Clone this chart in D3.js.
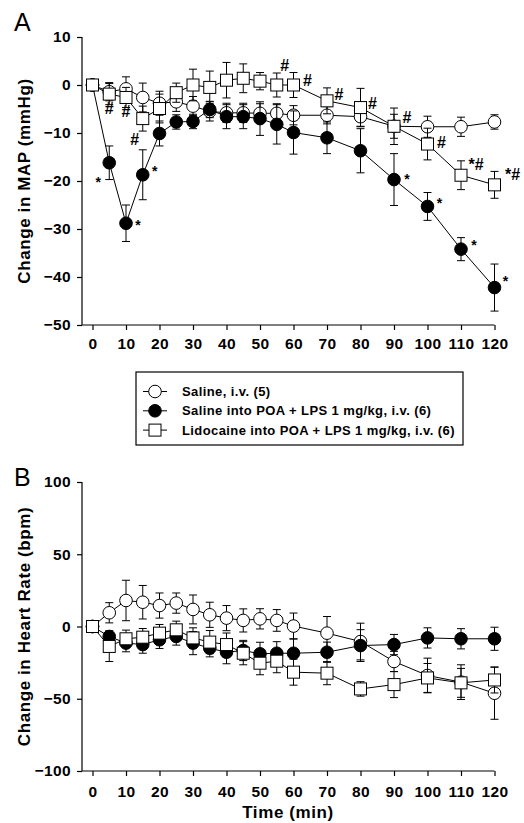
<!DOCTYPE html>
<html lang="en">
<head>
<meta charset="utf-8">
<script src="https://d3js.org/d3.v7.min.js"></script>
<style>
  body { margin: 0; background: #fff; }
  svg text { font-family: "Liberation Sans", Arial, sans-serif; }
</style>
<title>MAP and HR</title>
</head>
<body>
<script type="text/javascript">
// time points (min)
var times = [0, 5, 10, 15, 20, 25, 30, 35, 40, 45, 50, 55, 60, 70, 80, 90, 100, 110, 120];
var xTicks = [0, 10, 20, 30, 40, 50, 60, 70, 80, 90, 100, 110, 120];

// Panel A: change in MAP (mmHg), mean and SEM
var mapSaline    = [0, -1.4, -0.8, -2.6, -3.8, -3.5, -4.4, -5.5, -5.8, -5.8, -5.9, -5.9, -6.3, -6.3, -6.6, -8.6, -8.7, -8.7, -7.7];
var mapSalineErr = [0, 1.9, 2.5, 3, 2.5, 2, 2, 2, 2, 2, 2, 2, 2, 1.8, 2, 2.5, 2.2, 2, 1.5];
var mapLps       = [0, -16.2, -28.8, -18.7, -10.1, -7.7, -7.6, -5.1, -6.6, -6.6, -7.0, -8.2, -9.9, -11.0, -13.7, -19.7, -25.3, -34.2, -42.2];
var mapLpsErr    = [0, 3.5, 3.8, 5.2, 2.6, 1.5, 1.5, 1.7, 2.5, 2.5, 3.5, 4.1, 4.5, 3.3, 4.6, 5.4, 2.9, 2.4, 4.9];
var mapLido      = [0, -1.9, -2.6, -7.0, -4.9, -1.6, 0, -0.5, 1.0, 1.4, 0.8, 0, 0, -3.3, -4.7, -8.6, -12.3, -18.8, -20.8];
var mapLidoErr   = [0, 2.2, 2.1, 2.6, 3, 2, 3.3, 3.4, 3.7, 3, 1.8, 2.5, 2.6, 2.7, 4, 3.8, 3.3, 3, 2.8];

// Panel B: change in heart rate (bpm)
var hrSaline    = [0, 9.5, 18, 16.8, 14.5, 16.2, 11.8, 8.1, 5.8, 4.2, 5.3, 4.2, 0.3, -4.6, -10.4, -24.2, -33.9, -38.5, -46.2];
var hrSalineErr = [0, 7, 14, 11.6, 8.7, 7, 10, 8.7, 8.7, 8, 7, 7.5, 9, 11.5, 12.7, 7, 12, 12, 18];
var hrLps       = [0, -6.9, -11.5, -12.5, -9.2, -6.9, -11.5, -15, -17.8, -16.6, -18.9, -18.5, -18.5, -17.8, -13.2, -12.5, -7.9, -8.5, -8.5];
var hrLpsErr    = [0, 4, 6, 6, 6, 6, 8, 6, 8, 7, 8, 8, 10, 7, 11, 7, 7, 7, 8];
var hrLido      = [0, -13.8, -8.5, -7.4, -4.6, -2.3, -7.9, -10.8, -12.5, -18.5, -25.4, -24, -31.6, -32.3, -43.2, -40.2, -35.6, -39, -37];
var hrLidoErr   = [0, 10.4, 6, 6, 6, 6, 7, 8, 8, 8, 8, 8, 9, 8, 5, 9, 10, 10, 9];

var mapTicks = [10, 0, -10, -20, -30, -40, -50];
var hrTicks = [100, 50, 0, -50, -100];

var legendText = ["Saline, i.v. (5)", "Saline into POA + LPS 1 mg/kg, i.v. (6)", "Lidocaine into POA + LPS 1 mg/kg, i.v. (6)"];

// significance marks in panel A: [series, time, label]
var marksA = [
  ["lps", 5, "*"], ["lps", 10, "*"], ["lps", 15, "*"], ["lps", 90, "*"], ["lps", 100, "*"], ["lps", 110, "*"], ["lps", 120, "*"],
  ["lido", 5, "#"], ["lido", 10, "#"], ["lido", 15, "#"], ["lido", 55, "#"], ["lido", 60, "#"], ["lido", 70, "#"],
  ["lido", 80, "#"], ["lido", 90, "#"], ["lido", 100, "#"], ["lido", 110, "*#"], ["lido", 120, "*#"]
];
// where each mark sits relative to its point (px)
var markOffsets = [
  [-11, 15], [12, -2], [12, -8], [13, -5], [12, -7], [13, -8], [11, -11],
  [0, 14], [0, 14], [-8, 20], [8, -20], [14, -5], [12, -7],
  [12, -5], [13, -9], [14, -2], [15, -11], [18, -11]
];

var width = 524, height = 823;
var svg = d3.select("body").append("svg").attr("width", width).attr("height", height);

var x = d3.scaleLinear().domain([0, 120]).range([92.5, 494.5]);
var yA = d3.scaleLinear().domain([-50, 10]).range([325, 37]);
var yB = d3.scaleLinear().domain([-100, 100]).range([771, 482]);
var axisLeftX = 82;

function drawAxes(y, ticks, title, letter, letterY, tickLabelY, showTimeTitle) {
  var g = svg.append("g");
  var yr = y.range();
  // y axis
  var ya = g.append("g").attr("transform", "translate(" + axisLeftX + ",0)")
    .call(d3.axisLeft(y).tickValues(ticks).tickSize(5).tickSizeOuter(0).tickPadding(6));
  ya.select(".domain").remove();
  g.append("line").attr("x1", axisLeftX).attr("x2", axisLeftX).attr("y1", yr[1]).attr("y2", yr[0])
    .attr("stroke", "#000").attr("stroke-width", 1.2);
  ya.selectAll("text").style("font-size", "15.5px").style("font-weight", "bold").style("letter-spacing", "0.4px").attr("fill", "#000");
  ya.selectAll("line").attr("stroke", "#000").attr("stroke-width", 1.2);

  // x axis
  var xa = g.append("g").attr("transform", "translate(0," + yr[0] + ")")
    .call(d3.axisBottom(x).tickValues(xTicks).tickSize(5).tickSizeOuter(0));
  xa.select(".domain").remove();
  g.append("line").attr("x1", axisLeftX).attr("x2", x(120)).attr("y1", yr[0]).attr("y2", yr[0])
    .attr("stroke", "#000").attr("stroke-width", 1.2);
  xa.selectAll("line").attr("stroke", "#000").attr("stroke-width", 1.2);
  xa.selectAll("text").attr("y", null).attr("dy", null)
    .attr("y", tickLabelY - yr[0])
    .style("font-size", "15.5px").style("font-weight", "bold").style("letter-spacing", "0.4px").attr("fill", "#000");

  g.append("text")
    .attr("transform", "translate(30," + ((yr[0] + yr[1]) / 2) + ") rotate(-90)")
    .attr("text-anchor", "middle")
    .style("font-size", "17px").style("font-weight", "bold").style("letter-spacing", "0.6px")
    .text(title);

  g.append("text").attr("x", 14).attr("y", letterY).style("font-size", "25px").text(letter);

  if (showTimeTitle) {
    g.append("text").attr("x", 288).attr("y", 818).attr("text-anchor", "middle")
      .style("font-size", "17px").style("font-weight", "bold").style("letter-spacing", "0.6px")
      .text("Time (min)");
  }
}

function drawSeries(y, vals, errs, shape, fill) {
  var g = svg.append("g");
  var pts = times.map(function(t, i) { return { t: t, v: vals[i], e: errs[i] }; });
  var line = d3.line().x(function(d) { return x(d.t); }).y(function(d) { return y(d.v); });
  g.append("path").datum(pts).attr("d", line).attr("fill", "none").attr("stroke", "#000").attr("stroke-width", 1);

  var eb = g.selectAll(".eb").data(pts.filter(function(d) { return d.e > 0; })).enter().append("g");
  eb.append("line")
    .attr("x1", function(d) { return x(d.t); }).attr("x2", function(d) { return x(d.t); })
    .attr("y1", function(d) { return y(d.v + d.e); }).attr("y2", function(d) { return y(d.v - d.e); })
    .attr("stroke", "#000").attr("stroke-width", 1);
  [1, -1].forEach(function(s) {
    eb.append("line")
      .attr("x1", function(d) { return x(d.t) - 4; }).attr("x2", function(d) { return x(d.t) + 4; })
      .attr("y1", function(d) { return y(d.v + s * d.e); }).attr("y2", function(d) { return y(d.v + s * d.e); })
      .attr("stroke", "#000").attr("stroke-width", 1);
  });

  if (shape === "circle") {
    g.selectAll("circle").data(pts).enter().append("circle")
      .attr("cx", function(d) { return x(d.t); }).attr("cy", function(d) { return y(d.v); })
      .attr("r", 6.3).attr("fill", fill).attr("stroke", "#000").attr("stroke-width", 1);
  } else {
    g.selectAll("rect").data(pts).enter().append("rect")
      .attr("x", function(d) { return x(d.t) - 6; }).attr("y", function(d) { return y(d.v) - 6; })
      .attr("width", 12).attr("height", 12).attr("fill", fill).attr("stroke", "#000").attr("stroke-width", 1);
  }
}

// Panel A
drawAxes(yA, mapTicks, "Change in MAP (mmHg)", "A", 31, 349, false);
drawSeries(yA, mapSaline, mapSalineErr, "circle", "#fff");
drawSeries(yA, mapLps, mapLpsErr, "circle", "#000");
drawSeries(yA, mapLido, mapLidoErr, "square", "#fff");

var seriesA = { lps: mapLps, lido: mapLido };
svg.append("g").selectAll("text").data(marksA).enter().append("text")
  .attr("x", function(d, i) { return x(d[1]) + markOffsets[i][0]; })
  .attr("y", function(d, i) {
    var v = seriesA[d[0]][times.indexOf(d[1])];
    return yA(v) + markOffsets[i][1] + (d[2] === "*" ? 9 : 6);
  })
  .attr("text-anchor", "middle")
  .style("font-size", function(d) { return d[2] === "*" ? "14px" : "16px"; })
  .style("font-weight", "bold")
  .text(function(d) { return d[2]; });

// Legend
var legend = svg.append("g");
legend.append("rect").attr("x", 136).attr("y", 372).attr("width", 327).attr("height", 73)
  .attr("fill", "#fff").attr("stroke", "#000").attr("stroke-width", 1.2);
var legendRows = legend.selectAll(".row").data(legendText).enter().append("g")
  .attr("transform", function(d, i) { return "translate(155," + (391.5 + i * 19.3) + ")"; });
legendRows.append("line").attr("x1", -12).attr("x2", 12).attr("stroke", "#000").attr("stroke-width", 1);
legendRows.each(function(d, i) {
  var r = d3.select(this);
  if (i < 2) {
    r.append("circle").attr("r", 6.3).attr("fill", i === 0 ? "#fff" : "#000").attr("stroke", "#000");
  } else {
    r.append("rect").attr("x", -6).attr("y", -6).attr("width", 12).attr("height", 12).attr("fill", "#fff").attr("stroke", "#000");
  }
});
legendRows.append("text").attr("x", 27).attr("dy", "0.36em")
  .style("font-size", "13px").style("font-weight", "bold").style("letter-spacing", "0.4px")
  .text(function(d) { return d; });

// Panel B
drawAxes(yB, hrTicks, "Change in Heart Rate (bpm)", "B", 486, 797, true);
drawSeries(yB, hrSaline, hrSalineErr, "circle", "#fff");
drawSeries(yB, hrLps, hrLpsErr, "circle", "#000");
drawSeries(yB, hrLido, hrLidoErr, "square", "#fff");
</script>
</body>
</html>
